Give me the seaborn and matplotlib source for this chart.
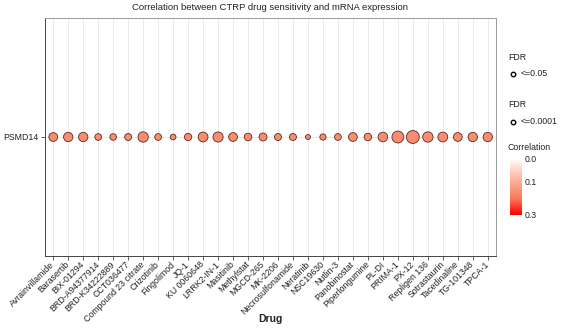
import numpy as np
import pandas as pd
import matplotlib
matplotlib.use("Agg")
import matplotlib.pyplot as plt
import seaborn as sns
from matplotlib.colors import LinearSegmentedColormap, PowerNorm
from matplotlib.lines import Line2D

# ---- data ----
drugs = ["Avrainvillamide", "Barasertib", "BIX-01294", "BRD-A94377914", "BRD-K34222889",
         "CCT036477", "Compound 23 citrate", "Crizotinib", "Fingolimod", "JQ-1",
         "KU 0060648", "LRRK2-IN-1", "Masitinib", "Methylstat", "MGCD-265",
         "MK-2206", "Necrosulfonamide", "Neratinib", "NSC19630", "Nutlin-3",
         "Panobinostat", "Piperlongumine", "PL-DI", "PRIMA-1", "PX-12",
         "Repligen 136", "Sotrastaurin", "Tacedinaline", "TG-101348", "TPCA-1"]
gene = ["PSMD14"]
neg_log10_fdr = [7.2, 8.1, 8.1, 4.2, 4.0, 4.5, 10.0, 4.2, 3.0, 4.9,
                 9.0, 9.6, 7.2, 5.3, 5.9, 4.5, 4.5, 2.2, 3.6, 4.2,
                 7.2, 5.2, 8.6, 13.2, 15.6, 10.0, 9.0, 7.2, 8.1, 8.1]
correlation = [0.18] * 30

title = "Correlation between CTRP drug sensitivity and mRNA expression"
cbar_ticks = [0.0, 0.1, 0.3]
fdr_labels = ["<=0.05", "<=0.0001"]

df = pd.DataFrame({"Drug": drugs, "Gene": gene * len(drugs),
                   "size": neg_log10_fdr, "cor": correlation})

W, H = 561, 328
fig = plt.figure(figsize=(W / 100, H / 100), dpi=100)
plt.rcParams['font.family'] = ['Liberation Sans', 'DejaVu Sans']

def fx(px):
    return px / W

def fy(py):
    return 1 - py / H

ax = fig.add_axes([fx(45), fy(256), fx(496) - fx(45), fy(18) - fy(256)])

# white -> red, interpolated roughly in Lab space (salmon mid-tones)
cmap = LinearSegmentedColormap.from_list(
    "wr", [(0.0, "#FFFFFF"), (0.25, "#FFD6C9"), (0.5, "#FCA990"),
           (0.75, "#F97A5C"), (1.0, "#FF0000")])
norm = PowerNorm(gamma=0.83, vmin=0, vmax=0.3)

sns.scatterplot(data=df, x="Drug", y="Gene", size="size", hue="cor",
                palette=cmap, hue_norm=norm,
                sizes=(12.5, 86), size_norm=(2.2, 15.6),
                edgecolor="#5a2a20", linewidth=0.6, legend=False, ax=ax, zorder=3)

ax.set_xlim(-0.55, len(drugs) - 0.45)
ax.set_ylim(-1, 1)
ax.set_facecolor("white")
ax.grid(True, color="#E6E6E6", lw=0.6)
ax.set_axisbelow(True)
for s in ["top", "right"]:
    ax.spines[s].set_color("#9a9a9a")
    ax.spines[s].set_linewidth(0.7)
for s in ["left", "bottom"]:
    ax.spines[s].set_color("#444444")
    ax.spines[s].set_linewidth(0.7)
ax.tick_params(axis="both", length=3, width=0.6, color="#444444",
               labelsize=6.3, labelcolor="#222222", pad=2)
plt.setp(ax.get_xticklabels(), rotation=45, ha="right", va="center",
         rotation_mode="anchor")
ax.set_ylabel("")
ax.set_xlabel("")
fig.text(fx(270), fy(319), "Drug", fontsize=7.5, fontweight="bold",
         ha="center", va="center", color="#222222")
ax.set_title(title, fontsize=6.8, pad=6, color="#222222")

# ---- legends ----
fig.text(fx(508), fy(57), "FDR", fontsize=6.3, va="center", ha="left", color="#222222")
fig.add_artist(Line2D([fx(513)], [fy(74)], marker="o", markersize=3.2,
                      markerfacecolor="white", markeredgecolor="black",
                      markeredgewidth=1.0, transform=fig.transFigure))
fig.text(fx(521), fy(74), fdr_labels[0], fontsize=6.3, va="center", ha="left", color="#222222")
fig.text(fx(508), fy(104), "FDR", fontsize=6.3, va="center", ha="left", color="#222222")
fig.add_artist(Line2D([fx(513)], [fy(122)], marker="o", markersize=3.2,
                      markerfacecolor="white", markeredgecolor="black",
                      markeredgewidth=1.0, transform=fig.transFigure))
fig.text(fx(521), fy(122), fdr_labels[1], fontsize=6.3, va="center", ha="left", color="#222222")
fig.text(fx(508), fy(148), "Correlation", fontsize=6.3, va="center", ha="left", color="#222222")

cax = fig.add_axes([fx(510), fy(215), fx(522) - fx(510), fy(160) - fy(215)])
grad = np.linspace(0, 0.3, 256).reshape(-1, 1)
cax.imshow(grad, aspect="auto", cmap=cmap, norm=norm, extent=[0, 1, 0.3, 0],
           origin="upper")
cax.set_ylim(0.3, 0)
cax.set_xticks([])
cax.set_yticks([])
for s in cax.spines.values():
    s.set_visible(False)
y0, y1 = fy(160), fy(215)
for t in cbar_ticks:
    frac = norm(t)
    fig.text(fx(525), y0 + (y1 - y0) * frac, f"{t:.1f}", fontsize=6.3,
             va="center", ha="left", color="#222222")

fig.savefig("out.png", dpi=100)
